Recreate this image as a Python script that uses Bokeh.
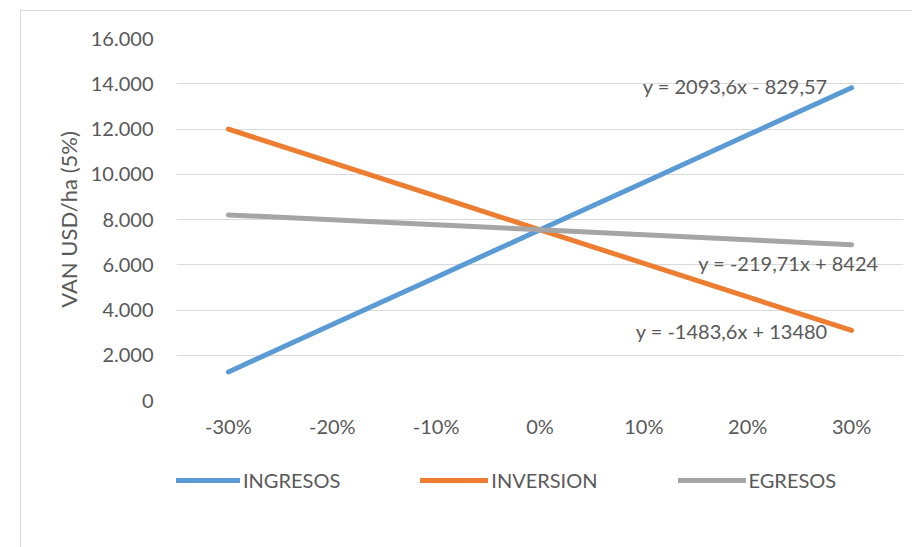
from bokeh.plotting import figure
from bokeh.layouts import column
from bokeh.models import (FixedTicker, Legend, LegendItem, Label, Range1d, FactorRange)
from bokeh.embed import file_html
from bokeh.resources import INLINE

categories = ["-30%", "-20%", "-10%", "0%", "10%", "20%", "30%"]
ingresos = [1264, 3358, 5451, 7545, 9638, 11732, 13826]
inversion = [11996, 10513, 9029, 7546, 6062, 4578, 3095]
egresos = [8204, 7985, 7765, 7545, 7325, 7106, 6886]
y_ticks = [0, 2000, 4000, 6000, 8000, 10000, 12000, 14000, 16000]
y_tick_labels = ["0", "2.000", "4.000", "6.000", "8.000", "10.000", "12.000", "14.000", "16.000"]
series_names = ["INGRESOS", "INVERSION", "EGRESOS"]
equations = ["y = 2093,6x - 829,57", "y = -219,71x + 8424", "y = -1483,6x + 13480"]
eq_x = [6.27, 6.76, 6.27]
eq_y = [13880, 6060, 3090]

FONT = "Lato"
TXT = "#595959"
GRID = "#d9d9d9"
colors = ["#5B9BD5", "#ED7D31", "#A5A5A5"]
series = [ingresos, inversion, egresos]

p = figure(frame_width=727, frame_height=362, x_range=FactorRange(*categories), y_range=Range1d(0, 16000),
           output_backend="svg", toolbar_location=None,
           min_border_left=155, min_border_right=10, min_border_top=27, min_border_bottom=50)
p.outline_line_color = None
p.background_fill_color = "white"
p.border_fill_color = "white"

p.xgrid.grid_line_color = None
p.ygrid.grid_line_color = GRID
p.ygrid.grid_line_width = 1
p.yaxis.ticker = FixedTicker(ticks=y_ticks)
p.yaxis.major_label_overrides = {t: l for t, l in zip(y_ticks, y_tick_labels)}

for ax in (p.xaxis[0], p.yaxis[0]):
    ax.axis_line_color = None
    ax.major_tick_line_color = None
    ax.minor_tick_line_color = None
    ax.major_label_text_font = FONT
    ax.major_label_text_font_size = "20px"
    ax.major_label_text_color = TXT
p.yaxis.major_label_standoff = 17
p.xaxis.major_label_standoff = 7
p.yaxis.axis_label = "VAN USD/ha (5%)"
p.yaxis.axis_label_text_font = FONT
p.yaxis.axis_label_text_font_size = "22px"
p.yaxis.axis_label_text_font_style = "normal"
p.yaxis.axis_label_text_color = TXT
p.yaxis.axis_label_standoff = 6

for vals, c in zip(series, colors):
    p.line(categories, vals, line_color=c, line_width=5, line_cap="round", line_join="round")

for t, x, y in zip(equations, eq_x, eq_y):
    p.add_layout(Label(x=x, y=y, text=t, text_align="right", text_baseline="middle",
                       text_font=FONT, text_font_size="20px", text_color=TXT))

# legend strip below the chart
p2 = figure(width=892, height=98, x_range=p.x_range, y_range=p.y_range,
            x_axis_type=None, y_axis_type=None, output_backend="svg", toolbar_location=None,
            min_border_left=0, min_border_right=0, min_border_top=0, min_border_bottom=0)
p2.outline_line_color = None
p2.xgrid.grid_line_color = None
p2.ygrid.grid_line_color = None
leg_renderers = []
for vals, c in zip(series, colors):
    r = p2.line(categories, vals, line_color=c, line_width=5, line_cap="round", visible=False)
    leg_renderers.append(r)

legend = Legend(items=[LegendItem(label=n, renderers=[r]) for n, r in zip(series_names, leg_renderers)],
                orientation="horizontal", location=(-4, 56),
                glyph_width=68, glyph_height=24, label_height=24, label_standoff=3, spacing=80,
                padding=0, margin=0, border_line_alpha=0, background_fill_alpha=0,
                inactive_fill_alpha=0,
                label_text_font=FONT, label_text_font_size="20px", label_text_color=TXT)
p2.add_layout(legend, "center")

layout = column(p, p2, spacing=0)
layout.margin = (10, 0, 0, 20)
layout.styles = {"border-top": "1px solid #d9d9d9", "border-left": "1px solid #d9d9d9"}

open("out.html", "w").write(file_html(layout, INLINE))
